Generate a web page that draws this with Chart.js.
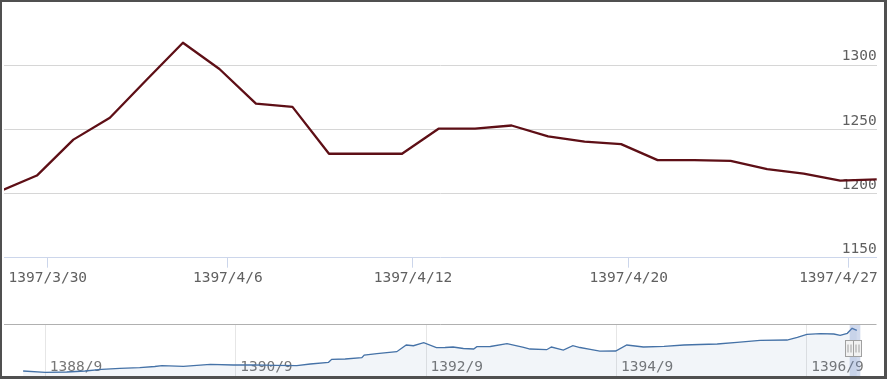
<!DOCTYPE html>
<html><head><meta charset="utf-8">
<script src="https://cdn.jsdelivr.net/npm/chart.js@4"></script>
<style>
html,body{margin:0;padding:0;background:#fff;}
#wrap{position:relative;width:887px;height:379px;overflow:hidden;background:#fff;}
#main{position:absolute;left:0;top:0;}
#nav{position:absolute;left:0;top:318px;}
#frame{position:absolute;left:0;top:0;width:887px;height:379px;box-sizing:border-box;border-style:solid;border-color:#505050;border-width:2px 3px 3px 2px;pointer-events:none;}
</style></head><body>
<div id="wrap"><canvas id="main" width="887" height="379"></canvas><canvas id="nav" width="887" height="61"></canvas><div id="frame"></div></div>
<script>
// ---- main series (trading-day index -> price) ----
const dayIndex = [0,1,2,3,4,5,6,7,8,9,10,11,12,13,14,15,16,17,18,19,20,21,22,23,24];
const prices = [1202,1214,1242,1259,1288.5,1317.5,1297,1270,1267.5,1231,1231,1231,1250.5,1250.5,1253,1244.5,1240.5,1238.5,1226,1226,1225.5,1219,1215.5,1210,1211];
const yTicks = [1150,1200,1250,1300];
const xTickPos = [1.3,6.23,11.3,17.21,23.23];
const xTickLabels = ['1397/3/30','1397/4/6','1397/4/12','1397/4/20','1397/4/27'];

// ---- navigator series (months since 1388/1 -> price) ----
const navMonths = [5.2,8.0,10.7,13.0,15.1,17.4,19.9,21.8,22.7,25.4,28.8,31.7,34.2,37.0,39.7,41.4,43.7,44.1,45.8,47.9,48.2,49.8,52.3,53.5,54.4,55.7,57.3,58.4,59.4,60.7,62.0,62.4,64.1,66.2,68.3,69.1,71.2,71.8,73.3,74.5,75.4,76.7,77.9,79.9,81.3,83.4,86.0,88.5,90.5,92.7,95.2,98.1,101.5,102.8,104.0,105.7,107.4,108.2,109.1,109.7,110.3];
const navPrices = [292,261,268,292,333,357,371,400,419,405,453,436,441,429,419,460,501,573,580,611,676,707,755,916,899,971,851,856,868,832,820,875,880,947,861,820,803,868,796,899,856,813,767,772,916,868,885,916,928,940,981,1029,1036,1101,1173,1187,1180,1149,1197,1317,1269];
const navTickMonths = [8,32,56,80,104];
const navTickLabels = ['1388/9','1390/9','1392/9','1394/9','1396/9'];
const navSelection = [109.4,110.74];

const FONT = {family:'DejaVu Sans Mono', size:14.5};

// keep the last x label inside the plot (like the original's label justification)
const justifyPlugin = {
  id:'justify',
  beforeDraw(chart){
    const s = chart.scales.x;
    const items = s.getLabelItems();
    const last = items[items.length-1];
    if (last && last.options) {
      last.options.textAlign = 'right';
      last.options.translation[0] = chart.chartArea.right + 1;
    }
  }
};

new Chart(document.getElementById('main'), {
  type:'line',
  data:{datasets:[{
    data: dayIndex.map((d,i)=>({x:d,y:prices[i]})),
    borderColor:'#5e0f16', borderWidth:2.3, pointRadius:0, tension:0, fill:false,
    borderJoinStyle:'round', borderCapStyle:'round'
  }]},
  options:{
    responsive:false, animation:false, devicePixelRatio:1,
    layout:{padding:{left:4,right:10.3,top:10,bottom:91.3}},
    plugins:{legend:{display:false},tooltip:{enabled:false}},
    scales:{
      x:{type:'linear', min:0.1, max:24,
        afterBuildTicks:s=>{s.ticks = xTickPos.map(v=>({value:v}));},
        afterFit:s=>{s.height=30; s.paddingLeft=0; s.paddingRight=0;},
        grid:{drawOnChartArea:false, drawTicks:true, tickLength:10, color:'#ccd6eb'},
        border:{color:'#ccd6eb', width:1},
        ticks:{autoSkip:false, maxRotation:0, padding:2, color:'#606060', font:FONT,
          callback:(v,i)=>xTickLabels[i]}
      },
      y:{position:'right', min:1150, max:1343,
        afterBuildTicks:s=>{s.ticks = yTicks.map(v=>({value:v}));},
        afterFit:s=>{s.width=0; s.paddingTop=0; s.paddingBottom=0;},
        grid:{drawTicks:false, color:c=>(c.tick && c.tick.value===1150)?'rgba(0,0,0,0)':'#d6d6d6'},
        border:{display:false},
        ticks:{mirror:true, padding:0, labelOffset:-8.5, color:'#606060', font:FONT,
          callback:v=>String(v)}
      }
    }
  },
  plugins:[justifyPlugin]
});

const navPlugin = {
  id:'navDeco',
  afterDatasetsDraw(chart){
    const {ctx, chartArea:a, scales:{x}} = chart;
    const x0 = x.getPixelForValue(navSelection[0]);
    const x1 = x.getPixelForValue(navSelection[1]);
    ctx.save();
    ctx.fillStyle='rgba(102,133,194,0.3)';
    ctx.fillRect(x0, a.top, x1-x0, chart.height-a.top);
    ctx.strokeStyle='#b0b0b0'; ctx.lineWidth=1;
    const ty = Math.round(a.top)+0.5;
    ctx.beginPath(); ctx.moveTo(a.left,ty); ctx.lineTo(a.right,ty); ctx.stroke();
    const handle = (cx)=>{
      const top = Math.round(a.top+15.7)+0.5, h=16, w=8;
      const left = Math.round(cx-w/2)+0.5;
      ctx.fillStyle='#f2f2f2'; ctx.strokeStyle='#a0a0a0';
      ctx.fillRect(left,top,w,h); ctx.strokeRect(left,top,w,h);
      ctx.beginPath();
      ctx.moveTo(left+2.5,top+4); ctx.lineTo(left+2.5,top+h-4);
      ctx.moveTo(left+5.5,top+4); ctx.lineTo(left+5.5,top+h-4);
      ctx.stroke();
    };
    handle(x0-1); handle(x1-3);
    ctx.restore();
  }
};

new Chart(document.getElementById('nav'), {
  type:'line',
  data:{datasets:[{
    data: navMonths.map((m,i)=>({x:m,y:navPrices[i]})),
    borderColor:'#4572a7', borderWidth:1.3, pointRadius:0, tension:0,
    fill:'start', backgroundColor:'rgba(69,114,167,0.07)'
  }]},
  options:{
    responsive:false, animation:false, devicePixelRatio:1,
    layout:{padding:{left:4,right:10.5,top:6.3,bottom:2.7}},
    plugins:{legend:{display:false},tooltip:{enabled:false}},
    scales:{
      x:{type:'linear', min:2.79, max:112.78,
        afterBuildTicks:s=>{s.ticks = navTickMonths.map(v=>({value:v}));},
        afterFit:s=>{s.height=0; s.paddingLeft=0; s.paddingRight=0;},
        grid:{drawTicks:false, color:'#e6e6e6'},
        border:{display:false},
        ticks:{autoSkip:false, maxRotation:0, mirror:true, align:'start', padding:0.5, labelOffset:4.5,
          color:'#777', font:FONT, callback:(v,i)=>navTickLabels[i]}
      },
      y:{display:false, min:165, max:1413}
    }
  },
  plugins:[navPlugin]
});
</script>
</body></html>
